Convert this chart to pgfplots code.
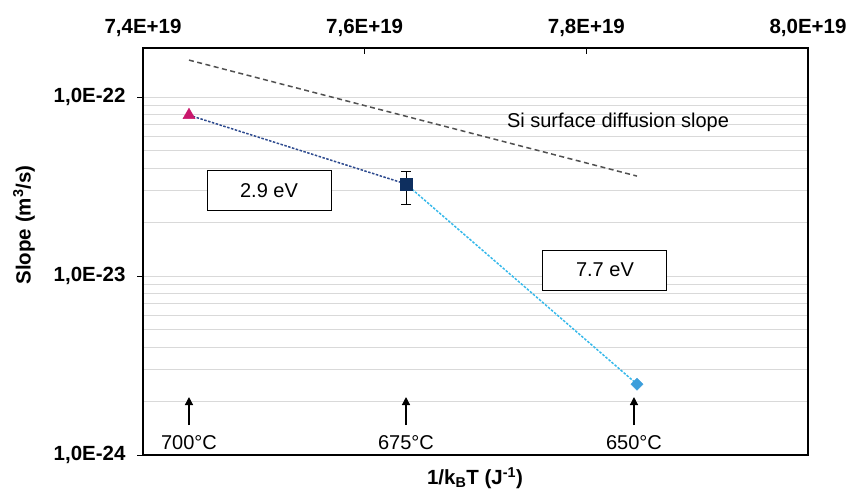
\documentclass[border=0pt]{standalone}
\usepackage{fontspec}
\setmainfont{Liberation Sans}
\usepackage{pgfplots}
\pgfplotsset{compat=1.18}
\usetikzlibrary{arrows.meta}
\definecolor{trimag}{HTML}{C9176C}
\definecolor{navyline}{HTML}{2E4B8F}
\definecolor{navysq}{HTML}{0E2F5F}
\definecolor{lblue}{HTML}{35B8EA}
\definecolor{diablue}{HTML}{3C9EDB}
\definecolor{gridgray}{HTML}{D9D9D9}
\definecolor{dashgray}{HTML}{505050}
\newcommand{\tf}{\fontsize{20.5}{24}\selectfont}
\newcommand{\nf}{\fontsize{20}{24}\selectfont}
\begin{document}
\begin{tikzpicture}
\useasboundingbox (0,0) rectangle (850pt,495pt);
\begin{axis}[
  at={(143pt,40pt)}, anchor=south west,
  scale only axis, width=665pt, height=407pt,
  xmin=7.4e19, xmax=8.0e19,
  scaled x ticks=false,
  ymode=log, ymin=1e-24, ymax=1.88e-22,
  xtick={7.4e19,7.6e19,7.8e19,8.0e19},
  xticklabels={{7,4E+19},{7,6E+19},{7,8E+19},{8,0E+19}},
  xtick pos=right, xticklabel pos=right,
  ytick={1e-24,1e-23,1e-22},
  yticklabels={{1,0E-24},{1,0E-23},{1,0E-22}},
  ytick pos=left,
  minor ytick={2e-24,3e-24,4e-24,5e-24,6e-24,7e-24,8e-24,9e-24,2e-23,3e-23,4e-23,5e-23,6e-23,7e-23,8e-23,9e-23},
  yminorgrids=true, ymajorgrids=true,
  major grid style={draw=gridgray, line width=1pt},
  minor grid style={draw=gridgray, line width=1pt},
  minor tick length=0pt,
  major tick length=6pt,
  axis line style={line width=1.2pt, black},
  ticklabel style={font=\tf\bfseries},
  xticklabel shift=8pt, yticklabel shift=14pt,
  every major y tick/.append style={xshift=-6pt},
  tick style={black, line width=1pt},
  clip=false,
]
% Si surface diffusion reference slope
\addplot[dashgray, line width=1.5pt, dash pattern=on 5pt off 3.5pt] coordinates {(7.4415e19,1.61e-22) (7.8457e19,3.62e-23)};
% 2.9 eV segment
\addplot[navyline, line width=1.5pt, dash pattern=on 2.5pt off 1.5pt] coordinates {(7.4415e19,7.93e-23) (7.6373e19,3.27e-23)};
% 7.7 eV segment
\addplot[lblue, line width=1.5pt, dash pattern=on 2.5pt off 1.5pt] coordinates {(7.6373e19,3.27e-23) (7.8457e19,2.49e-24)};
% points
\addplot[only marks, mark=triangle*, mark size=7pt, color=trimag] coordinates {(7.4415e19,7.93e-23)};
\addplot[only marks, mark=square*, mark size=6pt, color=navysq,
  error bars/.cd, y dir=both, y explicit,
  error mark=-,
  error bar style={black, line width=1pt},
  error mark options={black, line width=1pt, mark size=5pt, rotate=90}]
  coordinates {(7.6373e19,3.27e-23) += (0,0.56e-23) -= (0,0.75e-23)};
\addplot[only marks, mark=square*, mark size=4.3pt, mark options={rotate=45}, color=diablue] coordinates {(7.8457e19,2.49e-24)};
% annotations
\node[font=\nf] at (axis cs:7.8286e19,7.25e-23) {Si surface diffusion slope};
\node[draw=black, fill=white, line width=1pt, minimum width=124pt, minimum height=40pt, font=\nf] at (axis cs:7.5137e19,3.02e-23) {2.9 eV};
\node[draw=black, fill=white, line width=1pt, minimum width=124pt, minimum height=40pt, font=\nf] at (axis cs:7.8168e19,1.08e-23) {7.7 eV};
\draw[-{Triangle[length=8pt,width=8pt]}, line width=1.3pt] (axis cs:7.4415e19,1.47e-24) -- (axis cs:7.4415e19,2.11e-24);
\draw[-{Triangle[length=8pt,width=8pt]}, line width=1.3pt] (axis cs:7.6373e19,1.47e-24) -- (axis cs:7.6373e19,2.11e-24);
\draw[-{Triangle[length=8pt,width=8pt]}, line width=1.3pt] (axis cs:7.843e19,1.47e-24) -- (axis cs:7.843e19,2.11e-24);
\node[font=\nf] at (axis cs:7.4415e19,1.18e-24) {700°C};
\node[font=\nf] at (axis cs:7.6373e19,1.18e-24) {675°C};
\node[font=\nf] at (axis cs:7.843e19,1.18e-24) {650°C};
\end{axis}
\node[rotate=90, font=\tf\bfseries] at (24pt,270pt) {Slope (m\textsuperscript{3}/s)};
\node[font=\tf\bfseries] at (475pt,17pt) {1/k\textsubscript{B}T (J\textsuperscript{-1})};
\end{tikzpicture}
\end{document}
